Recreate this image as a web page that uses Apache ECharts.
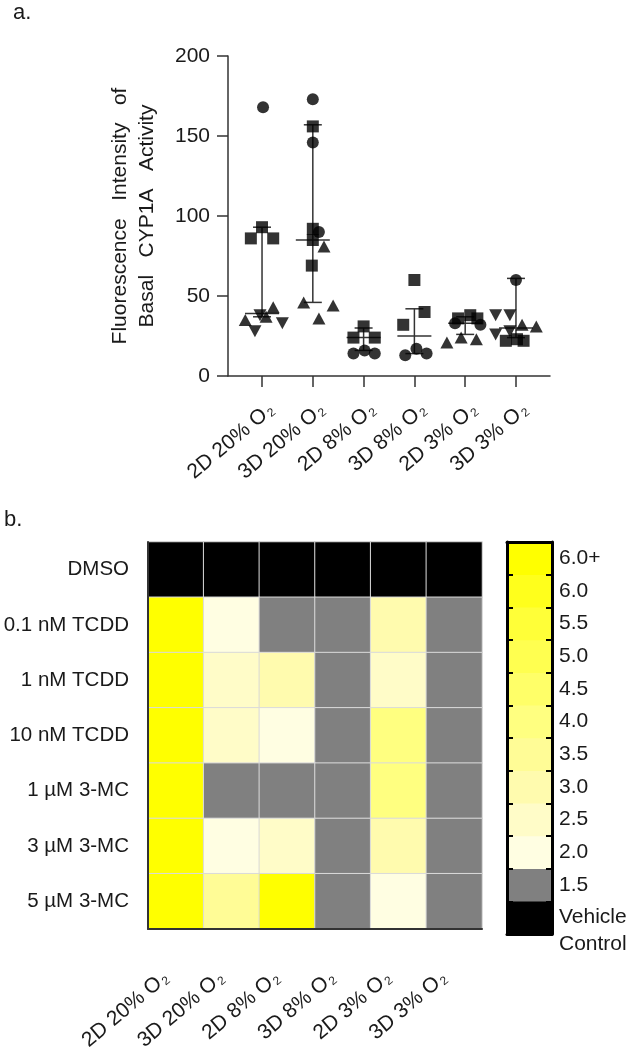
<!DOCTYPE html>
<html><head><meta charset="utf-8">
<script src="https://cdn.jsdelivr.net/npm/echarts@6/dist/echarts.min.js"></script>
<style>html,body{margin:0;padding:0;background:#fff}#c{width:629px;height:1050px}</style>
</head><body><div id="c"></div>
<script>
// ---------- panel a data ----------
const groupLabels = ['2D 20%', '3D 20%', '2D 8%', '3D 8%', '2D 3%', '3D 3%'];
const yTicks = [0, 50, 100, 150, 200];
// [group, jitter, value]
const circlePoints = [
  [1, 0.02, 168],
  [2, 0.0, 173], [2, 0.0, 146], [2, 0.12, 90],
  [3, -0.2, 14], [3, 0.02, 16], [3, 0.22, 14],
  [4, -0.18, 13], [4, 0.04, 17], [4, 0.24, 14],
  [5, -0.2, 33], [5, 0.3, 32],
  [6, 0.0, 60]
];
const squarePoints = [
  [1, -0.22, 86], [1, 0.22, 86], [1, 0.0, 93],
  [2, 0.0, 156], [2, 0.0, 92], [2, 0.0, 85], [2, -0.02, 69],
  [3, -0.2, 24], [3, 0.0, 31], [3, 0.22, 24],
  [4, 0.0, 60], [4, -0.22, 32], [4, 0.2, 40],
  [5, -0.14, 36], [5, 0.1, 38], [5, 0.24, 36],
  [6, -0.2, 22], [6, 0.15, 22], [6, 0.02, 23]
];
const trianglePoints = [
  [1, -0.33, 35], [1, 0.22, 43], [1, 0.08, 37],
  [2, 0.22, 81], [2, -0.18, 46], [2, 0.12, 36], [2, 0.4, 44],
  [5, -0.36, 21], [5, -0.08, 24], [5, 0.22, 23],
  [6, 0.12, 32], [6, 0.4, 31]
];
const invTrianglePoints = [
  [1, -0.14, 28], [1, 0.4, 33], [1, -0.04, 38],
  [6, -0.4, 38], [6, -0.12, 38], [6, -0.4, 26], [6, -0.12, 28]
];
// [group, lower quartile, median, upper quartile]
const errorBars = [
  [1, 37, 39, 93],
  [2, 46, 85, 157],
  [3, 16, 24, 30],
  [4, 14, 25, 42],
  [5, 26, 33, 37],
  [6, 24, 30, 61]
];

// ---------- panel b data ----------
const treatments = ['DMSO', '0.1 nM TCDD', '1 nM TCDD', '10 nM TCDD', '1 µM 3-MC', '3 µM 3-MC', '5 µM 3-MC'];
// fold change per treatment (row) x condition (column); 0 = vehicle control, 6.5 = 6.0+
const foldChange = [
  [0, 0, 0, 0, 0, 0],
  [6.5, 2.0, 1.5, 1.5, 3.0, 1.5],
  [6.5, 2.5, 3.0, 1.5, 2.5, 1.5],
  [6.5, 2.5, 2.0, 1.5, 4.0, 1.5],
  [6.5, 1.5, 1.5, 1.5, 4.0, 1.5],
  [6.5, 2.0, 2.5, 1.5, 3.0, 1.5],
  [6.5, 3.5, 6.5, 1.5, 2.0, 1.5]
];
const scaleLabels = ['Vehicle\nControl', '1.5', '2.0', '2.5', '3.0', '3.5', '4.0', '4.5', '5.0', '5.5', '6.0', '6.0+'];
const scaleValues = [0, 1.5, 2.0, 2.5, 3.0, 3.5, 4.0, 4.5, 5.0, 5.5, 6.0, 6.5];
const scaleColors = ['#000000', '#808080', '#fffee2', '#fffcc8', '#fffbae', '#fffc96', '#ffff80', '#ffff68', '#ffff50', '#ffff38', '#ffff1c', '#ffff00'];

// ---------- build ----------
const TXT = '#1a1a1a';
const FF = 'Liberation Sans, Arial, sans-serif';
const richLab = {
  t: { fontSize: 21, color: TXT, fontFamily: FF },
  s: { fontSize: 12, color: TXT, fontFamily: FF, padding: [9, 0, 0, 2] }
};
const toPts = arr => arr.map(p => [p[0] + p[1], p[2]]);
const heatData = [];
foldChange.forEach((row, r) => row.forEach((v, c) => heatData.push([c, r, v])));
const scaleData = scaleValues.map((v, i) => [0, i, v]);

const chart = echarts.init(document.getElementById('c'), null, { renderer: 'canvas' });
const markerStyle = { color: '#000' };
const option = {
  backgroundColor: '#fff',
  animation: false,
  textStyle: { fontFamily: FF, color: TXT },
  title: [
    { text: 'a.', left: 8, top: -3, textStyle: { fontSize: 22, fontWeight: 'normal', color: TXT } },
    { text: 'b.', left: -1, top: 504, textStyle: { fontSize: 22, fontWeight: 'normal', color: TXT } }
  ],
  grid: [
    { left: 228, top: 56, width: 322, height: 320, outerBoundsMode: 'none', containLabel: false },
    { left: 148, top: 542, width: 334, height: 387, outerBoundsMode: 'none', containLabel: false },
    { left: 507, top: 542, width: 45, height: 392, outerBoundsMode: 'none', containLabel: false }
  ],
  visualMap: {
    type: 'piecewise', show: false, dimension: 2, seriesIndex: [5, 6],
    pieces: scaleValues.map((v, i) => ({ value: v, color: scaleColors[i] }))
  },
  xAxis: [
    {
      gridIndex: 0, type: 'value', min: 0.33, max: 6.67,
      splitLine: { show: false },
      axisLine: { show: true, lineStyle: { color: '#333', width: 1.5 } },
      axisTick: { show: true, length: 11, customValues: [1, 2, 3, 4, 5, 6], lineStyle: { color: '#333', width: 1.5 } },
      axisLabel: {
        customValues: [1, 2, 3, 4, 5, 6], rotate: 40, margin: 20, padding: [29, 0, 0, 0],
        formatter: v => '{t|' + groupLabels[Math.round(v) - 1] + ' O}{s|2}', rich: richLab
      }
    },
    {
      gridIndex: 1, type: 'category', data: groupLabels, position: 'bottom',
      axisLine: { show: true, lineStyle: { color: '#333', width: 2 } }, z: 5,
      axisTick: { show: false },
      axisLabel: {
        rotate: 40, margin: 38, interval: 0, padding: [0, 13, 0, 0],
        formatter: v => '{t|' + v + ' O}{s|2}', rich: richLab
      }
    },
    {
      gridIndex: 2, type: 'category', data: ['s'], position: 'bottom', z: 5,
      axisLine: { show: true, lineStyle: { color: '#000', width: 3 } },
      axisTick: { show: false }, axisLabel: { show: false }
    },
    {
      gridIndex: 2, type: 'category', data: ['s'], position: 'top', z: 5,
      axisLine: { show: true, lineStyle: { color: '#000', width: 3 } },
      axisTick: { show: false }, axisLabel: { show: false }
    }
  ],
  yAxis: [
    {
      gridIndex: 0, type: 'value', min: 0, max: 200, interval: 50,
      splitLine: { show: false },
      axisLine: { show: true, lineStyle: { color: '#333', width: 1.5 } },
      axisTick: { show: true, length: 11, lineStyle: { color: '#333', width: 1.5 } },
      axisLabel: { fontSize: 21, color: TXT, margin: 18 },
      name: 'Fluorescence   Intensity   of\nBasal   CYP1A   Activity',
      nameLocation: 'middle', nameGap: 67,
      nameTextStyle: { fontSize: 21, color: TXT, lineHeight: 27 }
    },
    {
      gridIndex: 1, type: 'category', data: treatments, inverse: true, z: 5,
      axisLine: { show: true, lineStyle: { color: '#333', width: 2 } },
      axisTick: { show: false },
      axisLabel: { fontSize: 20.5, color: TXT, margin: 19 }
    },
    {
      gridIndex: 2, type: 'category', data: scaleLabels, position: 'left', z: 5,
      axisLine: { show: true, lineStyle: { color: '#000', width: 3 } },
      axisTick: { show: true, inside: true, length: 6, lineStyle: { color: '#000', width: 2 } },
      axisLabel: { show: false }
    },
    {
      gridIndex: 2, type: 'category', data: scaleLabels, position: 'right', z: 5,
      axisLine: { show: true, lineStyle: { color: '#000', width: 3 } },
      axisTick: { show: true, inside: true, length: 6, lineStyle: { color: '#000', width: 2 } },
      axisLabel: {
        fontSize: 21, color: TXT, margin: 7, lineHeight: 27, interval: 0, hideOverlap: false,
        formatter: v => v.indexOf('Vehicle') === 0 ? '\n' + v : v
      }
    }
  ],
  series: [
    {
      type: 'custom', xAxisIndex: 0, yAxisIndex: 0, z: 1, data: errorBars,
      renderItem: function (params, api) {
        const g = api.value(0);
        const lo = api.coord([g, api.value(1)]);
        const md = api.coord([g, api.value(2)]);
        const hi = api.coord([g, api.value(3)]);
        const cap = 9, mw = 17;
        const st = { stroke: '#333', lineWidth: 1.5 };
        return {
          type: 'group', children: [
            { type: 'line', shape: { x1: lo[0], y1: lo[1], x2: hi[0], y2: hi[1] }, style: st },
            { type: 'line', shape: { x1: lo[0] - cap, y1: lo[1], x2: lo[0] + cap, y2: lo[1] }, style: st },
            { type: 'line', shape: { x1: hi[0] - cap, y1: hi[1], x2: hi[0] + cap, y2: hi[1] }, style: st },
            { type: 'line', shape: { x1: md[0] - mw, y1: md[1], x2: md[0] + mw, y2: md[1] }, style: st }
          ]
        };
      }
    },
    { type: 'scatter', xAxisIndex: 0, yAxisIndex: 0, z: 3, symbol: 'circle', symbolSize: 12, itemStyle: markerStyle, data: toPts(circlePoints) },
    { type: 'scatter', xAxisIndex: 0, yAxisIndex: 0, z: 3, symbol: 'rect', symbolSize: 12, itemStyle: markerStyle, data: toPts(squarePoints) },
    { type: 'scatter', xAxisIndex: 0, yAxisIndex: 0, z: 3, symbol: 'triangle', symbolSize: [13, 12], itemStyle: markerStyle, data: toPts(trianglePoints) },
    { type: 'scatter', xAxisIndex: 0, yAxisIndex: 0, z: 3, symbol: 'triangle', symbolRotate: 180, symbolSize: [13, 12], itemStyle: markerStyle, data: toPts(invTrianglePoints) },
    {
      type: 'heatmap', xAxisIndex: 1, yAxisIndex: 1, data: heatData,
      itemStyle: { borderColor: '#dadada', borderWidth: 1 }
    },
    {
      type: 'heatmap', xAxisIndex: 2, yAxisIndex: 2, data: scaleData,
      itemStyle: { borderWidth: 0 }
    }
  ]
};
chart.setOption(option);
</script>
</body></html>
